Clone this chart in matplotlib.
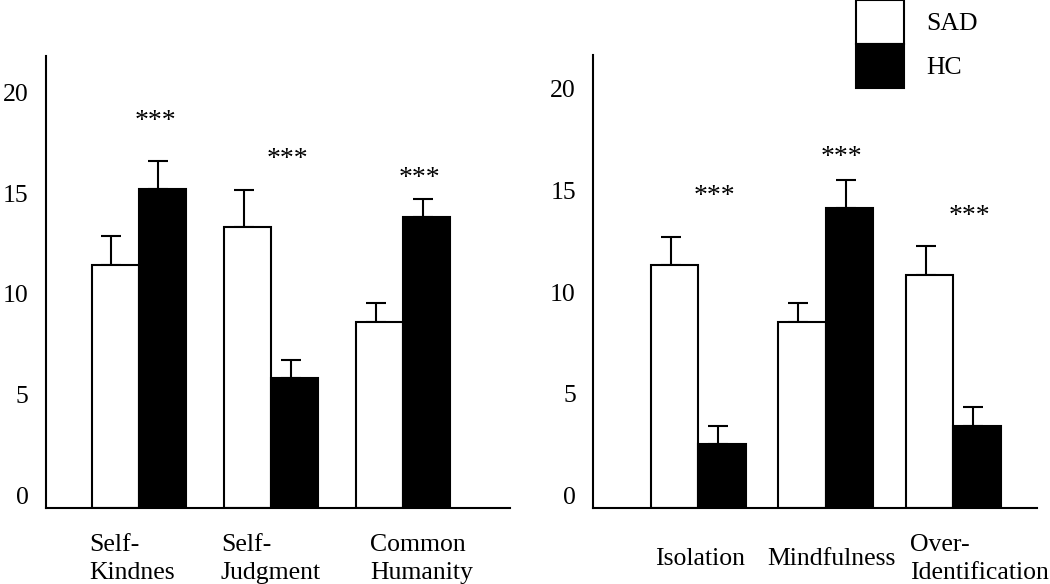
import matplotlib
matplotlib.use("Agg")
import matplotlib.pyplot as plt
import numpy as np
from matplotlib.transforms import ScaledTranslation
from matplotlib.patches import Patch

plt.rcParams['font.family'] = ['Liberation Serif', 'DejaVu Serif']

# ---- data ----
groups = ["SAD", "HC"]
left_labels = ["Self-\nKindnes", "Self-\nJudgment", "Common\nHumanity"]
left_sad = [12.1, 13.95, 9.25]
left_sad_err = [1.4, 1.87, 0.92]
left_hc = [15.85, 6.45, 14.45]
left_hc_err = [1.39, 0.92, 0.9]
left_stars = ["***", "***", "***"]
left_star_y = [19.5, 17.65, 16.7]

right_labels = ["Isolation", "Mindfulness", "Over-\nIdentification"]
right_sad = [11.95, 9.16, 11.5]
right_sad_err = [1.4, 0.92, 1.38]
right_hc = [3.14, 14.75, 4.06]
right_hc_err = [0.9, 1.38, 0.92]
right_stars = ["***", "***", "***"]
right_star_y = [15.65, 17.58, 14.69]

yticks = [0, 5, 10, 15, 20]

FS = 18.5
STAR_FS = 20
fig = plt.figure(figsize=(10.5, 5.84), dpi=100)

ax1 = fig.add_axes([0.04381, 0.1296, 0.4419, 0.7752])
ax2 = fig.add_axes([0.5650, 0.1296, 0.4223, 0.7762])


def draw(ax, labels, sad, sad_err, hc, hc_err, stars, star_y, width,
         xlim, ylim, label_dx):
    pos = np.arange(len(labels))
    ax.bar(pos - width / 2, sad, width, color="white", edgecolor="black",
           linewidth=1.5, zorder=2)
    ax.bar(pos + width / 2, hc, width, color="black", edgecolor="black",
           linewidth=1.5, zorder=2)
    for xs, vals, errs in ((pos - width / 2, sad, sad_err),
                           (pos + width / 2, hc, hc_err)):
        ax.errorbar(xs - 0.03, vals, yerr=[np.zeros(len(vals)), errs],
                    fmt="none", ecolor="black", elinewidth=1.5,
                    capsize=7.5, capthick=1.5, zorder=1)
    for x, y, s in zip(pos, star_y, stars):
        ax.annotate(s, (x + 0.125, y), xytext=(0, -9.4),
                    textcoords="offset points", ha="center", va="baseline",
                    fontsize=STAR_FS)
    ax.set_xlim(*xlim)
    ax.set_ylim(*ylim)
    ax.set_yticks(yticks)
    ax.set_yticklabels([str(t) for t in yticks], fontsize=FS)
    ax.set_xticks(pos)
    ax.set_xticklabels(labels, fontsize=FS, linespacing=1.35,
                       multialignment="left")
    ax.tick_params(axis="y", length=0, pad=12.5)
    ax.tick_params(axis="x", length=0, pad=36.5)
    for lab in ax.get_yticklabels():
        lab.set_transform(lab.get_transform() +
                          ScaledTranslation(0, 13 / 100, fig.dpi_scale_trans))
    for lab, dx in zip(ax.get_xticklabels(), label_dx):
        lab.set_verticalalignment("center")
        lab.set_transform(lab.get_transform() +
                          ScaledTranslation(dx / 100, 0, fig.dpi_scale_trans))
    for side in ("top", "right"):
        ax.spines[side].set_visible(False)
    for side in ("left", "bottom"):
        ax.spines[side].set_linewidth(1.5)
    ax.patch.set_alpha(0)


draw(ax1, left_labels, left_sad, left_sad_err, left_hc, left_hc_err,
     left_stars, left_star_y, 0.355, (-0.7007, 2.8065), (0, 22.47),
     [-7, 0, 18])
draw(ax2, right_labels, right_sad, right_sad_err, right_hc, right_hc_err,
     right_stars, right_star_y, 0.3725, (-0.8235, 2.654), (0, 22.3),
     [2, 6, 26])

handles = [Patch(facecolor="white", edgecolor="black", linewidth=1.5),
           Patch(facecolor="black", edgecolor="black", linewidth=1.5)]
fig.legend(handles, groups, loc="upper left",
           bbox_to_anchor=(855.7 / 1050, 1.0), frameon=False,
           fontsize=FS, borderpad=0, borderaxespad=0, labelspacing=0,
           handlelength=48.6 / 25.7, handleheight=2.26,
           handletextpad=0.84)

fig.savefig("out.png", dpi=100)
